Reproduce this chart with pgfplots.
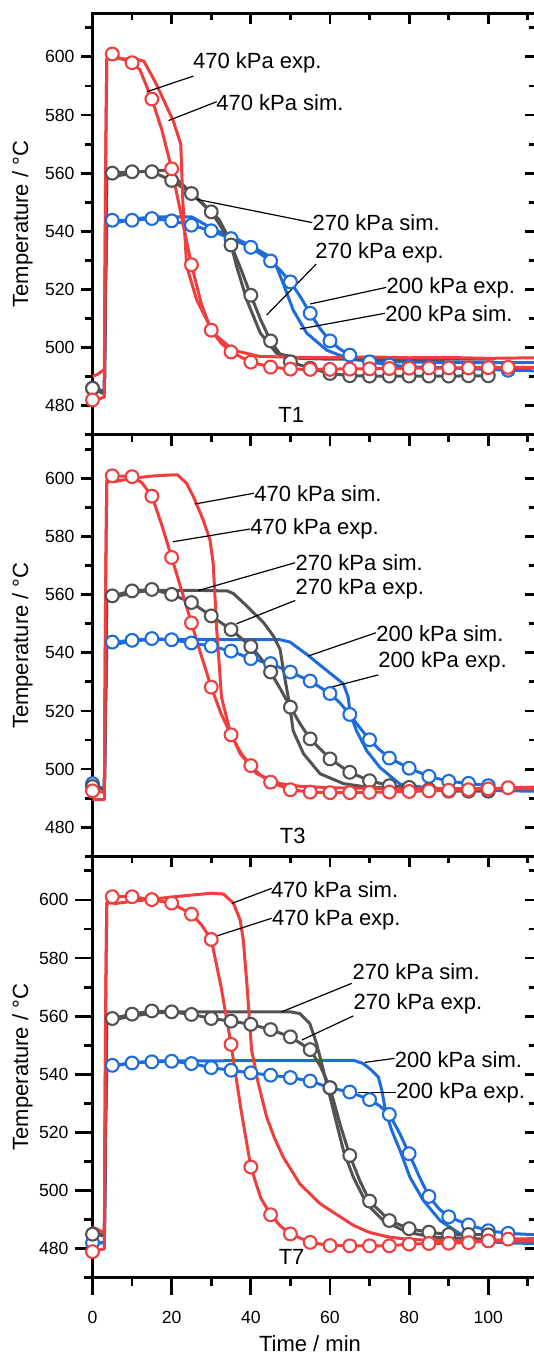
\documentclass[border=0pt]{standalone}
\usepackage{fontspec}
\setmainfont{Liberation Sans}
\usepackage{pgfplots}
\pgfplotsset{compat=1.18}
\definecolor{cr}{RGB}{240,62,62}
\definecolor{cg}{RGB}{82,82,82}
\definecolor{cb}{RGB}{28,108,220}
\newcommand{\lab}{\fontsize{11}{13}\selectfont}
\tikzset{
  ann/.style={font=\lab, anchor=west, inner sep=0pt},
  ld/.style={black, line width=0.6pt},
}
\pgfplotsset{
  panel/.style={
    scale only axis, width=221.65pt, height=210.75pt,
    xmin=0, xmax=112, ymin=470, ymax=615,
    xtick={0,20,40,60,80,100}, minor xtick={10,30,50,70,90,110},
    ytick={480,500,...,600}, minor ytick={470,490,...,610},
    axis line style={line width=1.4pt},
    every tick/.style={black, line width=1.4pt},
    major tick length=5.5pt, minor tick length=3.5pt,
    anchor=north west,
  },
  main/.style={panel,
    tick align=outside, xtick pos=bottom, ytick pos=left,
    ticklabel style={font=\fontsize{8.8}{10}\selectfont},
    /pgf/number format/assume math mode=true,
    ylabel={Temperature / °C},
    every axis y label/.style={at={(axis description cs:-0.158,0.5)}, rotate=90, anchor=center, font=\lab},
  },
  over/.style={panel, tick align=inside, xtick pos=top, ytick pos=right,
    xticklabels={}, yticklabels={}, axis line style={draw=none}},
  lin/.style={line width=1.5pt, line join=round},
  mk/.style={only marks, mark=*, mark size=3.2pt, mark options={fill=white, line width=1.05pt}},
}
\begin{document}
\begin{tikzpicture}
% ---------------- Panel T1 ----------------
\begin{axis}[main, at={(0,0)}, xticklabels={}]
\addplot[cb, lin] coordinates {(0,486) (3,485) (3.3,520) (3.6,541.5) (4,542.5) (8,543.5) (12,544.5) (16,545) (22,545) (25,545) (27.2,543.3) (30.5,540.7) (35.6,538) (40,535) (44.8,531.3) (46.5,527.8) (48.2,522) (50.7,512.9) (54.1,505) (59.2,499.1) (65,496) (70,495.3) (80,495) (90,494.9) (100,494.8) (112,494.8)};
\addplot[cb, lin] coordinates {(0,486) (3,485) (3.3,520) (3.6,542) (4,543) (5,543.8) (10,543.8) (15,544.4) (20,543.6) (25,542.1) (30,540.2) (35,537.5) (40,534.5) (45,529.8) (47.5,526.5) (50,522.6) (52.5,517.5) (55,511.8) (57.5,506.5) (60,502.3) (62.5,499.5) (65,497.4) (70,495.1) (75,494) (80,493.4) (90,493) (100,492.5) (105,492.2) (112,492)};
\addplot[cb, mk] coordinates {(0,486)(5,543.8)(10,543.8)(15,544.4)(20,543.6)(25,542.1)(30,540.2)(35,537.5)(40,534.5)(45,529.8)(50,522.6)(55,511.8)(60,502.3)(65,497.4)(70,495.1)(75,494)(80,493.4)(85,493.2)(90,493)(95,492.8)(100,492.5)(105,492.2)};
\addplot[cg, lin] coordinates {(0,486) (3,485) (3.3,530) (3.6,558) (4,558.5) (8,559.5) (12,560.5) (16,561) (19,561) (22,557) (27,550.7) (32,544) (34.7,537) (36.4,528) (39,516.3) (42.4,505) (46.5,498) (52.4,496.3) (60,496) (70,496) (80,495.9) (90,496) (101.5,496)};
\addplot[cg, lin] coordinates {(0,486) (3,484) (3.3,530) (3.6,558) (4,559) (5,560) (10,560.5) (15,560.5) (20,557.5) (25,553) (30,546.7) (32.5,541.5) (35,535.3) (37.5,527) (40,518) (42.5,509.5) (45,502.3) (47.5,497.5) (50,495.1) (55,492.9) (60,491.1) (65,490.3) (70,490.2) (80,490.2) (90,490.2) (100,490.3) (101,490.3)};
\addplot[cg, mk] coordinates {(0,486)(5,560)(10,560.5)(15,560.5)(20,557.5)(25,553)(30,546.7)(35,535.3)(40,518)(45,502.3)(50,495.1)(55,492.9)(60,491.1)(65,490.3)(70,490.2)(75,490.2)(80,490.2)(85,490.2)(90,490.2)(95,490.3)(100,490.3)};
\addplot[cr, lin] coordinates {(0,490) (1.5,491) (3,492.5) (3.3,560) (3.6,599) (4,600) (5,599.5) (8,599.3) (11,599.3) (13,598.5) (16,591) (20.4,578) (22.3,570) (22.8,551) (23.8,528) (26.3,516.5) (30.5,505) (35.6,499.1) (42,497) (50,496.7) (60,496.5) (70,496.8) (80,496.5) (90,496.6) (100,496.3) (112,496.5)};
\addplot[cr, lin] coordinates {(0,482) (1,482) (2,482.5) (3,483) (3.3,560) (3.6,599) (4,600.5) (5,601) (6,600) (8,599) (10,598) (12,595.5) (15,585.5) (17.5,575) (20,561.5) (22.5,545) (25,528.5) (27.5,515) (30,506) (32.5,501.5) (35,498.5) (40,495) (45,493.3) (50,492.6) (55,492.5) (60,492.6) (80,492.9) (100,493.1) (112,493.2)};
\addplot[cr, mk] coordinates {(0,482)(5,601)(10,598)(15,585.5)(20,561.5)(25,528.5)(30,506)(35,498.5)(40,495)(45,493.3)(50,492.6)(55,492.5)(60,492.5)(65,492.6)(70,492.7)(75,492.8)(80,492.9)(85,493)(90,493)(95,493)(100,493.1)(105,493.2)};
\node[ann] at (axis cs:25.3,597.8) {470 kPa exp.};
\draw[ld] (axis cs:25.5,593.4) -- (axis cs:13.7,588);
\node[ann] at (axis cs:31.2,584.2) {470 kPa sim.};
\draw[ld] (axis cs:31.4,584.6) -- (axis cs:19.2,578.1);
\node[ann] at (axis cs:55.5,543) {270 kPa sim.};
\draw[ld] (axis cs:55.5,543) -- (axis cs:26.3,551);
\node[ann] at (axis cs:56.2,532.6) {270 kPa exp.};
\draw[ld] (axis cs:56.5,528.7) -- (axis cs:44,511.2);
\node[ann] at (axis cs:74.2,520.7) {200 kPa exp.};
\draw[ld] (axis cs:74.2,520.7) -- (axis cs:55,515);
\node[ann] at (axis cs:73.9,511.8) {200 kPa sim.};
\draw[ld] (axis cs:73.9,511.8) -- (axis cs:52.4,506.4);
\node[font=\lab] at (axis cs:50.2,476.8) {T1};
\end{axis}
\begin{axis}[over, at={(0,0)}]
\end{axis}
% ---------------- Panel T3 ----------------
\begin{axis}[main, at={(0,-210.75pt)}, xticklabels={}]
\addplot[cb, lin] coordinates {(0,495) (3,493) (3.3,520) (3.6,541.5) (4,542.5) (8,543.5) (12,544.3) (16,544.6) (30,544.6) (47.4,544.5) (49.9,543.7) (54.1,539.5) (59.2,533.9) (63.4,529.3) (64.6,524.7) (65.1,519) (66.7,513.2) (69.3,506.3) (72.6,500.6) (77.7,494.8) (84.4,493.6) (90,493) (100,492.6) (112,492.4)};
\addplot[cb, lin] coordinates {(0,495) (3,493) (3.3,520) (3.6,542) (4,543) (5,543.7) (10,544.3) (15,544.9) (20,544.5) (25,543.4) (30,542.3) (35,540.6) (40,538) (45,536.3) (50,533.4) (55,530.3) (60,526) (62.5,522.8) (65,518.8) (67.5,514.3) (70,510.1) (72.5,506.7) (75,503.8) (80,500.3) (85,497.5) (90,495.8) (95,495.1) (100,494.3) (101,494.2)};
\addplot[cb, mk] coordinates {(0,495)(5,543.7)(10,544.3)(15,544.9)(20,544.5)(25,543.4)(30,542.3)(35,540.6)(40,538)(45,536.3)(50,533.4)(55,530.3)(60,526)(65,518.8)(70,510.1)(75,503.8)(80,500.3)(85,497.5)(90,495.8)(95,495.1)(100,494.3)};
\addplot[cg, lin] coordinates {(0,494) (3,493) (3.3,530) (3.6,557.5) (4,558.5) (8,560) (12,561) (15,561.5) (25,561.5) (34,561.3) (35.6,560.4) (39,556.1) (43.2,550.4) (45.7,545.8) (47.4,541.2) (48.2,534.3) (49.9,521.3) (50.7,513.2) (53.3,505.3) (57.5,498.4) (63.4,495) (69.3,493.8) (80,493.2) (90,493) (101.5,493)};
\addplot[cg, lin] coordinates {(0,494) (3,493) (3.3,530) (3.6,558) (4,559) (5,559.6) (10,561.3) (15,561.8) (20,560.1) (25,557.3) (30,552.7) (35,548) (40,542.2) (42.5,538.2) (45,533.4) (47.5,527.5) (50,521.3) (52.5,515.5) (55,510.4) (60,503.5) (65,498.9) (70,496) (75,494.3) (80,493.7) (85,493) (90,492.4) (95,492.4) (100,492.4) (101,492.4)};
\addplot[cg, mk] coordinates {(0,494)(5,559.6)(10,561.3)(15,561.8)(20,560.1)(25,557.3)(30,552.7)(35,548)(40,542.2)(45,533.4)(50,521.3)(55,510.4)(60,503.5)(65,498.9)(70,496)(75,494.3)(80,493.7)(85,493)(90,492.4)(95,492.4)(100,492.4)};
\addplot[cr, lin] coordinates {(0,489.5) (3,489.5) (3.3,560) (3.6,598) (4,599) (6,599) (10,600) (15,600.8) (20,601.2) (21.5,601.2) (23.8,598.3) (25.5,593.7) (28,585.6) (29.7,578.7) (30.5,570.7) (31.4,547.7) (32.6,524.7) (34.7,513.2) (37.3,505.3) (41.5,498.4) (47.4,495) (52.4,494.1) (60,493.6) (70,493.4) (80,493.4) (90,493.3) (100,493.3) (112,493.2)};
\addplot[cr, lin] coordinates {(0,492.5) (3,492) (3.3,560) (3.6,599) (4,600) (5,600.9) (7.5,600.8) (10,600.6) (12.5,598.5) (15,593.9) (17.5,584) (20,572.8) (22.5,561.5) (25,550.3) (27.5,539) (30,528.2) (32.5,519) (35,511.8) (37.5,505.5) (40,501.2) (42.5,497.8) (45,495.5) (50,492.9) (55,492.1) (60,491.9) (70,492) (80,492.3) (90,492.7) (100,493.2) (105,493.6) (112,493.8)};
\addplot[cr, mk] coordinates {(0,492.5)(5,600.9)(10,600.6)(15,593.9)(20,572.8)(25,550.3)(30,528.2)(35,511.8)(40,501.2)(45,495.5)(50,492.9)(55,492.1)(60,491.9)(65,491.9)(70,492)(75,492.1)(80,492.3)(85,492.5)(90,492.7)(95,492.9)(100,493.2)(105,493.6)};
\node[ann] at (axis cs:40.8,594.6) {470 kPa sim.};
\draw[ld] (axis cs:40.8,594.9) -- (axis cs:25.9,591.2);
\node[ann] at (axis cs:39.8,582.5) {470 kPa exp.};
\draw[ld] (axis cs:39.8,582.6) -- (axis cs:20.3,578.2);
\node[ann] at (axis cs:51.2,571) {270 kPa sim.};
\draw[ld] (axis cs:51.2,571) -- (axis cs:26.7,561.4);
\node[ann] at (axis cs:51.2,562.1) {270 kPa exp.};
\draw[ld] (axis cs:51.2,558) -- (axis cs:36.4,550);
\node[ann] at (axis cs:71.6,546.7) {200 kPa sim.};
\draw[ld] (axis cs:71.6,546.9) -- (axis cs:54.5,538.9);
\node[ann] at (axis cs:72.1,537) {200 kPa exp.};
\draw[ld] (axis cs:72.2,532.4) -- (axis cs:59.2,527.8);
\node[font=\lab] at (axis cs:50.6,477.1) {T3};
\end{axis}
\begin{axis}[over, at={(0,-210.75pt)}, xtick=\empty]
\end{axis}
% ---------------- Panel T7 ----------------
\begin{axis}[main, at={(0,-421.5pt)}, major tick length=8.5pt, minor tick length=4.2pt,
  xticklabel style={yshift=-4.5pt},
  xlabel={Time / min},
  every axis x label/.style={at={(axis description cs:0.4906,-0.155)}, anchor=center, font=\lab}]
\addplot[cb, lin] coordinates {(0,482) (3,482) (3.3,520) (3.6,541.5) (4,542.5) (8,543.5) (12,544.2) (16,544.6) (40,544.7) (66,544.8) (68.4,543.7) (70.5,541.4) (72.2,539.1) (73.1,534.5) (74,527.6) (75.6,520.7) (77.7,513.8) (80.2,504.6) (83.6,496.6) (87.8,489.7) (92.9,485.1) (98.8,482.5) (105,482) (112,481.8)};
\addplot[cb, lin] coordinates {(0,482) (3,482) (3.3,520) (3.6,542) (4,542.5) (5,543.1) (10,543.9) (15,544.3) (20,544.5) (25,543.7) (30,542.3) (35,541.4) (40,540.5) (45,539.7) (50,538.9) (55,537.7) (60,535.4) (65,533.9) (70,531.3) (72.5,529.2) (75,526.2) (77.5,520) (80,512.7) (82.5,505) (85,498) (87.5,493.8) (90,491) (95,488.2) (100,486.2) (105,485.3) (112,484.8)};
\addplot[cb, mk] coordinates {(0,482)(5,543.1)(10,543.9)(15,544.3)(20,544.5)(25,543.7)(30,542.3)(35,541.4)(40,540.5)(45,539.7)(50,538.9)(55,537.7)(60,535.4)(65,533.9)(70,531.3)(75,526.2)(80,512.7)(85,498)(90,491)(95,488.2)(100,486.2)(105,485.3)};
\addplot[cg, lin] coordinates {(0,486) (3,484.5) (3.3,530) (3.6,557.5) (4,558.5) (10,560) (15,561) (20,561.5) (50,561.5) (52.4,560.9) (54.9,557.5) (56.6,550.6) (57.9,543.7) (59.6,534.5) (61.7,523) (63.4,513.8) (65.9,504.6) (69.3,495.4) (73.5,489.7) (79.4,485.7) (86.1,484) (95,483.5) (102,483.3)};
\addplot[cg, lin] coordinates {(0,485) (3,484.5) (3.3,530) (3.6,558) (4,558.5) (5,559.2) (10,560.7) (15,561.8) (20,561.5) (25,560.6) (30,559.2) (35,558.3) (40,557.2) (45,555.4) (50,552.9) (55,548.5) (57.5,543) (60,535.4) (62.5,523) (65,512.1) (67.5,503.5) (70,496.4) (75,489.7) (80,486.9) (85,485.7) (90,484.9) (95,484.9) (100,484.8) (101,484.8)};
\addplot[cg, mk] coordinates {(0,485)(5,559.2)(10,560.7)(15,561.8)(20,561.5)(25,560.6)(30,559.2)(35,558.3)(40,557.2)(45,555.4)(50,552.9)(55,548.5)(60,535.4)(65,512.1)(70,496.4)(75,489.7)(80,486.9)(85,485.7)(90,484.9)(95,484.9)(100,484.8)};
\addplot[cr, lin] coordinates {(0,487.5) (3,485.5) (3.3,560) (3.6,598) (4,599) (6,598.8) (10,599.5) (20,601) (30,602.3) (33.1,602) (35.6,598.9) (37.3,593.1) (38.1,586.2) (39,571.3) (40.2,548.3) (41.9,536.8) (44,525.3) (46,518) (48.2,511.5) (52.4,502.3) (57.5,495.5) (62,491.5) (66,488) (70,485.6) (75,484) (80,483.2) (90,482.8) (100,482.6) (112,482.6)};
\addplot[cr, lin] coordinates {(0,479) (3,480) (3.3,560) (3.6,599) (4,600) (5,601.1) (10,601.1) (15,600.1) (20,598.9) (25,595.1) (27.5,591.5) (30,586.4) (32.5,570) (35,550.3) (37.5,528) (40,508.1) (42.5,497.5) (45,491.7) (47.5,487.8) (50,485.1) (55,482.2) (60,481.1) (65,481) (70,481) (75,481) (80,481.6) (85,481.8) (90,481.9) (95,482.1) (100,482.7) (105,483.3) (112,483.5)};
\addplot[cr, mk] coordinates {(0,479)(5,601.1)(10,601.1)(15,600.1)(20,598.9)(25,595.1)(30,586.4)(35,550.3)(40,508.1)(45,491.7)(50,485.1)(55,482.2)(60,481.1)(65,481)(70,481)(75,481)(80,481.6)(85,481.8)(90,481.9)(95,482.1)(100,482.7)(105,483.3)};
\node[ann] at (axis cs:45,603.7) {470 kPa sim.};
\draw[ld] (axis cs:45.3,604) -- (axis cs:35.2,598.8);
\node[ann] at (axis cs:45.3,593.1) {470 kPa exp.};
\draw[ld] (axis cs:45.3,593.7) -- (axis cs:31.4,587.6);
\node[ann] at (axis cs:65.6,575.3) {270 kPa sim.};
\draw[ld] (axis cs:65.5,571.3) -- (axis cs:47.8,561.5);
\node[ann] at (axis cs:65.9,564.2) {270 kPa exp.};
\draw[ld] (axis cs:65.9,560.1) -- (axis cs:52.9,551.8);
\node[ann] at (axis cs:76.3,545.2) {200 kPa sim.};
\draw[ld] (axis cs:76.3,545.5) -- (axis cs:68.8,544.1);
\node[ann] at (axis cs:76.7,533.5) {200 kPa exp.};
\draw[ld] (axis cs:76.7,533.7) -- (axis cs:67.2,533.7);
\node[font=\lab] at (axis cs:50.3,477.2) {T7};
\end{axis}
\begin{axis}[over, at={(0,-421.5pt)}, xtick=\empty]
\end{axis}
\pgfresetboundingbox
\useasboundingbox (-46.25pt,-669.35pt) rectangle (220.75pt,6.65pt);
\end{tikzpicture}
\end{document}
